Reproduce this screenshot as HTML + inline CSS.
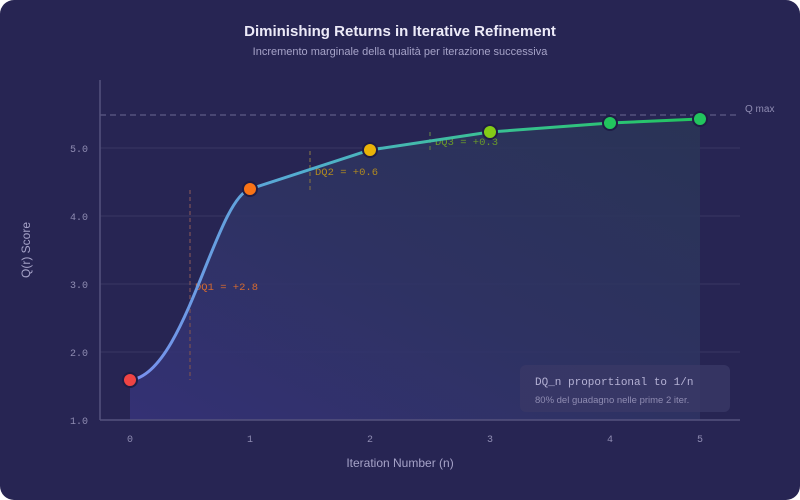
<!DOCTYPE html>
<html><head><meta charset="utf-8"><style>
html,body{margin:0;padding:0;background:#fff;}
.c{width:800px;height:500px;background:#272553;border-radius:14px;overflow:hidden;position:relative;}
svg{position:absolute;left:0;top:0;}
</style></head><body><div class="c">
<svg width="800" height="500" viewBox="0 0 800 500">
<defs>
<linearGradient id="fill" x1="0" y1="1" x2="1" y2="0">
<stop offset="0" stop-color="#36337a"/>
<stop offset="0.5" stop-color="#2f3464"/>
<stop offset="1" stop-color="#2a3656"/>
</linearGradient>
<linearGradient id="ln" x1="130" y1="0" x2="700" y2="0" gradientUnits="userSpaceOnUse">
<stop offset="0" stop-color="#7b8ff0"/>
<stop offset="0.3" stop-color="#52aed0"/>
<stop offset="0.6" stop-color="#3cc09a"/>
<stop offset="1" stop-color="#22c55e"/>
</linearGradient>
</defs>
<g font-family="Liberation Sans, sans-serif">
<text x="400" y="36" text-anchor="middle" fill="#eceaf8" font-size="15" font-weight="bold">Diminishing Returns in Iterative Refinement</text>
<text x="400" y="55" text-anchor="middle" fill="#a6a3c8" font-size="11">Incremento marginale della qualità per iterazione successiva</text>
</g>
<g stroke="#33315e" stroke-width="1.5">
<line x1="100" y1="148" x2="740" y2="148"/><line x1="100" y1="216" x2="740" y2="216"/>
<line x1="100" y1="284" x2="740" y2="284"/><line x1="100" y1="352" x2="740" y2="352"/>
</g>
<path d="M130,380 C185,375 215,200 250,189 L370,150 L490,132 L610,123 L700,119 L700,420 L130,420 Z" fill="url(#fill)" fill-opacity="0.85"/>
<line x1="100" y1="115" x2="740" y2="115" stroke="#55537e" stroke-width="1.5" stroke-dasharray="6,4"/>
<text x="745" y="112" fill="#8f8cb2" font-size="10" font-family="Liberation Sans, sans-serif">Q max</text>
<line x1="100" y1="80" x2="100" y2="420" stroke="#55537e" stroke-width="1.5"/>
<line x1="100" y1="420" x2="740" y2="420" stroke="#55537e" stroke-width="1.5"/>
<g stroke-dasharray="4,3" stroke-width="1.5">
<line x1="190" y1="190" x2="190" y2="380" stroke="#6b4a58"/>
<line x1="310" y1="151" x2="310" y2="190" stroke="#6b5e4a"/>
<line x1="430" y1="132" x2="430" y2="150" stroke="#556a4a"/>
</g>
<g font-family="Liberation Mono, monospace" font-size="10.5">
<text x="195" y="290" fill="#d46a30">DQ1 = +2.8</text>
<text x="315" y="175" fill="#b08a20">DQ2 = +0.6</text>
<text x="435" y="145" fill="#6a9a2a">DQ3 = +0.3</text>
</g>
<path d="M130,380 C185,375 215,200 250,189 L370,150 L490,132 L610,123 L700,119" fill="none" stroke="url(#ln)" stroke-width="3"/>
<g stroke="#1f1d45" stroke-width="2">
<circle cx="130" cy="380" r="7" fill="#ef4444"/>
<circle cx="250" cy="189" r="7" fill="#f97316"/>
<circle cx="370" cy="150" r="7" fill="#eab308"/>
<circle cx="490" cy="132" r="7" fill="#84cc16"/>
<circle cx="610" cy="123" r="7" fill="#22c55e"/>
<circle cx="700" cy="119" r="7" fill="#22c55e"/>
</g>
<g font-family="Liberation Mono, monospace" font-size="10" fill="#8f8cb2">
<text x="88" y="424" text-anchor="end">1.0</text>
<text x="88" y="356" text-anchor="end">2.0</text>
<text x="88" y="288" text-anchor="end">3.0</text>
<text x="88" y="220" text-anchor="end">4.0</text>
<text x="88" y="152" text-anchor="end">5.0</text>
<text x="130" y="442" text-anchor="middle">0</text>
<text x="250" y="442" text-anchor="middle">1</text>
<text x="370" y="442" text-anchor="middle">2</text>
<text x="490" y="442" text-anchor="middle">3</text>
<text x="610" y="442" text-anchor="middle">4</text>
<text x="700" y="442" text-anchor="middle">5</text>
</g>
<g font-family="Liberation Sans, sans-serif" font-size="12" fill="#a6a3c8">
<text x="400" y="467" text-anchor="middle">Iteration Number (n)</text>
<text transform="translate(30,250) rotate(-90)" text-anchor="middle">Q(r) Score</text>
</g>
<rect x="520" y="365" width="210" height="47" rx="6" fill="#3a3866" fill-opacity="0.8"/>
<text x="535" y="385" fill="#b4b1d4" font-size="11" font-family="Liberation Mono, monospace">DQ_n proportional to 1/n</text>
<text x="535" y="403" fill="#8f8cb2" font-size="9.5" font-family="Liberation Sans, sans-serif">80% del guadagno nelle prime 2 iter.</text>
</svg></div></body></html>
